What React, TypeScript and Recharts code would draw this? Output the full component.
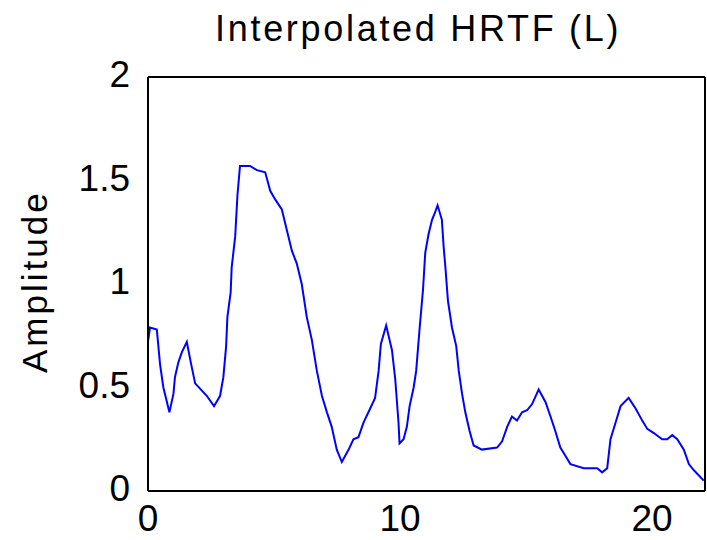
import React from "react";
import { LineChart, Line, XAxis, YAxis } from "recharts";

// Frequency (kHz) and magnitude of the interpolated left-ear HRTF
const freqKHz = [
  0.0, 0.08, 0.35, 0.48, 0.61, 0.85, 1.01, 1.07, 1.2, 1.34, 1.54, 1.7, 1.87,
  2.33, 2.62, 2.86, 2.99, 3.1, 3.15, 3.28, 3.32, 3.46, 3.55, 3.65, 4.05, 4.32,
  4.65, 4.85, 5.04, 5.31, 5.51, 5.71, 5.9, 6.1, 6.3, 6.5, 6.7, 6.9, 7.1, 7.29,
  7.49, 7.69, 7.96, 8.15, 8.35, 8.55, 8.82, 9.01, 9.15, 9.24, 9.45, 9.68, 9.81,
  9.94, 9.98, 10.14, 10.27, 10.38, 10.54, 10.64, 10.78, 10.91, 11.0, 11.13,
  11.27, 11.4, 11.49, 11.66, 11.73, 11.8, 11.9, 12.06, 12.23, 12.33, 12.46,
  12.59, 12.76, 12.92, 13.25, 13.85, 14.05, 14.25, 14.44, 14.64, 14.84, 15.04,
  15.24, 15.5, 15.77, 15.97, 16.16, 16.36, 16.56, 16.76, 17.29, 17.82, 18.02,
  18.22, 18.35, 18.55, 18.75, 19.07, 19.34, 19.61, 19.81, 20.07, 20.4, 20.6,
  20.8, 21.0, 21.26, 21.46, 21.66, 22.05,
];

const amplitude = [
  0.72, 0.79, 0.78, 0.61, 0.5, 0.38, 0.47, 0.55, 0.62, 0.67, 0.72, 0.62, 0.52,
  0.46, 0.41, 0.46, 0.55, 0.7, 0.84, 0.96, 1.08, 1.23, 1.43, 1.57, 1.57, 1.55,
  1.54, 1.45, 1.41, 1.36, 1.26, 1.16, 1.1, 1.0, 0.84, 0.73, 0.58, 0.46, 0.38,
  0.31, 0.2, 0.14, 0.2, 0.25, 0.26, 0.33, 0.4, 0.45, 0.58, 0.71, 0.8, 0.68,
  0.54, 0.33, 0.23, 0.25, 0.31, 0.41, 0.5, 0.58, 0.79, 0.97, 1.15, 1.24, 1.31,
  1.35, 1.38, 1.31, 1.18, 1.08, 0.92, 0.79, 0.7, 0.58, 0.47, 0.38, 0.29, 0.22,
  0.2, 0.21, 0.24, 0.31, 0.36, 0.34, 0.38, 0.39, 0.42, 0.49, 0.43, 0.36, 0.29,
  0.21, 0.17, 0.13, 0.11, 0.11, 0.09, 0.11, 0.25, 0.33, 0.41, 0.45, 0.4, 0.34,
  0.3, 0.28, 0.25, 0.25, 0.27, 0.25, 0.2, 0.13, 0.1, 0.05,
];

const xTicks = [0, 10, 20];
const yTicks = [0, 0.5, 1, 1.5, 2];
const xDomain: [number, number] = [0, 22.1];
const yDomain: [number, number] = [0, 2];

const data = freqKHz.map((f, i) => ({ f, a: amplitude[i] }));

const FONT = '"Liberation Sans", Arial, Helvetica, sans-serif';
const xTickStyle = { fill: "#000", fontSize: 37, fontFamily: FONT };
const yTickStyle = { fill: "#000", fontSize: 37, fontFamily: FONT, dy: -3 };
const frameLine = { stroke: "#000", strokeWidth: 2 };

// Box frame: mirrored axes draw the four edges with inward tick marks
const frameX = (id: string, orientation: "top" | "bottom") => (
  <XAxis
    key={id}
    xAxisId={id}
    dataKey="f"
    type="number"
    orientation={orientation}
    mirror
    domain={xDomain}
    ticks={xTicks}
    allowDataOverflow
    axisLine={frameLine}
    tickLine={frameLine}
    tickSize={4}
    tick={false}
    interval={0}
  />
);

const frameY = (id: string, orientation: "left" | "right") => (
  <YAxis
    key={id}
    yAxisId={id}
    type="number"
    orientation={orientation}
    mirror
    domain={yDomain}
    ticks={yTicks}
    allowDataOverflow
    axisLine={frameLine}
    tickLine={frameLine}
    tickSize={4}
    tick={false}
    interval={0}
  />
);

export default function App() {
  return (
    <div style={{ position: "absolute", left: 0, top: 0, background: "#fff" }}>
      <LineChart
        width={707}
        height={540}
        data={data}
        margin={{ top: 77, right: 2, bottom: 9, left: 88 }}
      >
        <XAxis
          xAxisId="b"
          dataKey="f"
          type="number"
          domain={xDomain}
          ticks={xTicks}
          allowDataOverflow
          height={40}
          axisLine={false}
          tickLine={false}
          tickSize={0}
          tickMargin={14}
          tick={xTickStyle}
          interval={0}
          label={{
            content: () => (
              <text
                x={215}
                y={41}
                fontSize={36}
                fontFamily={FONT}
                letterSpacing={2.7}
                fill="#000"
              >
                Interpolated HRTF (L)
              </text>
            ),
          }}
        />
        <YAxis
          yAxisId="l"
          type="number"
          domain={yDomain}
          ticks={yTicks}
          allowDataOverflow
          width={60}
          axisLine={false}
          tickLine={false}
          tickSize={0}
          tickMargin={18}
          tick={yTickStyle}
          interval={0}
          label={{
            content: () => (
              <text
                x={47}
                y={373}
                transform="rotate(-90, 47, 373)"
                fontSize={35}
                fontFamily={FONT}
                letterSpacing={3}
                fill="#000"
              >
                Amplitude
              </text>
            ),
          }}
        />
        {frameX("fb", "bottom")}
        {frameX("ft", "top")}
        {frameY("fl", "left")}
        {frameY("fr", "right")}
        <Line
          xAxisId="b"
          yAxisId="l"
          type="linear"
          dataKey="a"
          stroke="#0000ff"
          strokeWidth={2}
          dot={false}
          isAnimationActive={false}
        />
      </LineChart>
    </div>
  );
}
